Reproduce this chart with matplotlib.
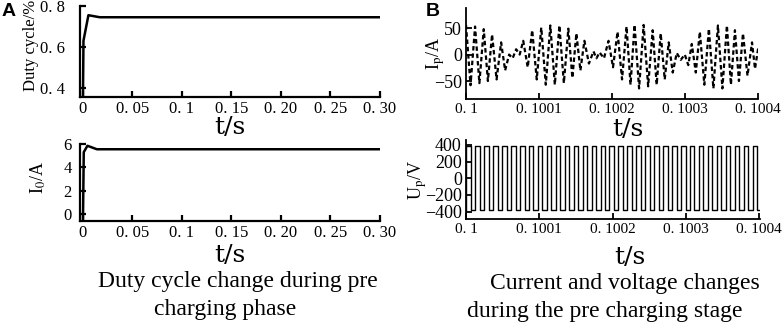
import numpy as np
import matplotlib.pyplot as plt

plt.rcParams['font.family'] = 'Liberation Serif'
plt.rcParams['mathtext.fontset'] = 'stix'

# ---- panel A: duty cycle and output current (time in s)
duty_t = [0.0, 0.0005, 0.0055, 0.017, 0.30]
duty = [0.355, 0.63, 0.755, 0.745, 0.745]
io_t = [0.0, 0.0008, 0.0045, 0.014, 0.30]
io = [-0.6, 5.3, 5.85, 5.55, 5.55]

a_xticks = [0, 0.05, 0.1, 0.15, 0.20, 0.25, 0.30]
a_xlabels = ['0', '0. 05', '0. 1', '0. 15', '0. 20', '0. 25', '0. 30']

# ---- panel B: current column times (us after 0.1 s) and peak values
ip_us = [0, 12.4, 24.3, 35.7, 48.1, 59.1, 68.7, 78.4, 90.7, 103.1, 115.5, 127.9,
         140.2, 151.2, 162.2, 174.6, 182.9, 195.2, 207.6, 219.9, 230.9, 243.3,
         255.7, 266.7, 277.7, 288.7, 299.7, 309.3, 320.3, 332.7, 345.1, 357.4,
         368.4, 379.4, 391.8, 400.0]
ip_pos = [56, 53, 48, 38, 23, 0, 10, 26, 46, 51, 55, 55, 49, 40, 26, 6, 4, 26,
          43, 53, 56, 56, 46, 40, 23, 3, 0, 20, 43, 49, 55, 55, 46, 40, 23, 10]
ip_neg = [-58, -54, -50, -47, -30, -7, 0, -24, -47, -57, -57, -54, -44, -30, -17,
          -7, -7, -24, -47, -57, -64, -60, -57, -47, -34, -10, -20, -34, -57, -64,
          -64, -57, -50, -40, -27, -5]

# square wave: rising and falling edge times (us after 0.1 s)
up_rise = [0.5, 12.7, 24.9, 37.1, 49.3, 61.5, 73.7, 85.9, 98.1, 110.3, 122.5,
           134.7, 146.9, 159.1, 171.3, 183.5, 195.7, 207.9, 220.1, 232.3, 244.5,
           256.7, 268.9, 281.1, 293.3, 305.5, 317.7, 329.9, 342.1, 354.3, 366.5,
           378.7, 390.9]
up_fall = [6.6, 18.8, 31.0, 43.2, 55.4, 67.6, 79.8, 92.0, 104.2, 116.4, 128.6,
           140.8, 153.0, 165.2, 177.4, 189.6, 201.8, 214.0, 226.2, 238.4, 250.6,
           262.8, 275.0, 287.2, 299.4, 311.6, 323.8, 336.0, 348.2, 360.4, 372.6,
           384.8, 397.0]
up_high = 385
up_low = -385

b_xticks = [0.1, 0.1001, 0.1002, 0.1003, 0.1004]
b_xlabels = ['0. 1', '0. 1001', '0. 1002', '0. 1003', '0. 1004']

W, H = 782, 322
fig = plt.figure(figsize=(W / 100, H / 100), dpi=100)


def box(l, t, r, b):
    return [l / W, 1 - b / H, (r - l) / W, (b - t) / H]


def style(ax, lw):
    for s in ['top', 'right']:
        ax.spines[s].set_visible(False)
    for s in ['left', 'bottom']:
        ax.spines[s].set_linewidth(lw)
    ax.tick_params(direction='in', length=4, width=lw, labelsize=12, pad=3)


# A top
ax1 = fig.add_axes(box(80, 6, 380, 97))
ax1.plot(duty_t, duty, color='black', lw=1.8)
ax1.set_xlim(-0.003, 0.30)
ax1.set_ylim(0.355, 0.8)
ax1.set_xticks(a_xticks, a_xlabels)
ax1.set_yticks([0.4, 0.6, 0.8], ['0. 4', '0. 6', '0. 8'])
style(ax1, 1.6)
ax1.tick_params(axis='y', pad=11)

# A bottom
ax2 = fig.add_axes(box(80, 144, 380, 221))
ax2.plot(io_t, io, color='black', lw=1.8)
ax2.set_xlim(-0.003, 0.30)
ax2.set_ylim(-0.6, 6)
ax2.set_xticks(a_xticks, a_xlabels)
ax2.set_yticks([0, 2, 4, 6])
style(ax2, 1.6)
ax2.tick_params(axis='y', pad=6)

# B top: current, peak at each column and trough half way to the next
t_pts, v_pts = [], []
for k in range(len(ip_us)):
    t_pts.append(ip_us[k])
    v_pts.append(ip_pos[k])
    nxt = ip_us[k + 1] if k + 1 < len(ip_us) else ip_us[k] + 11.8
    t_pts.append((ip_us[k] + nxt) / 2)
    v_pts.append(ip_neg[k])
ax3 = fig.add_axes(box(466, 8, 758, 99))
ax3.plot(0.1 + np.array(t_pts) * 1e-6, v_pts, color='black', lw=1.6,
         linestyle=(0, (2.0, 1.3)))
ax3.set_xlim(0.1, 0.1004)
ax3.set_ylim(-84, 88)
ax3.set_xticks(b_xticks, b_xlabels)
ax3.set_yticks([-50, 0, 50], ['\u221250', '0', '50'])
style(ax3, 1.3)
ax3.tick_params(axis='x', labelsize=11)
ax3.tick_params(axis='y', labelsize=13)

# B bottom: square voltage
sq_t, sq_v = [0.0], [up_low]
for r, f in zip(up_rise, up_fall):
    sq_t += [r, r, f, f]
    sq_v += [up_low, up_high, up_high, up_low]
sq_t.append(400.0)
sq_v.append(up_low)
ax4 = fig.add_axes(box(466, 140, 760, 219))
ax4.plot(0.1 + np.array(sq_t) * 1e-6, sq_v, color='black', lw=1.0)
ax4.set_xlim(0.1, 0.100401)
ax4.set_ylim(-490, 460)
ax4.set_xticks(b_xticks, b_xlabels)
ax4.set_yticks([-400, -200, 0, 200, 400],
               ['\u2212400', '\u2212200', '0', '200', '400'])
style(ax4, 1.3)
ax4.tick_params(axis='x', labelsize=11)
ax4.tick_params(axis='y', labelsize=13, pad=3)


def ftext(x, y, s, **kw):
    fig.text(x / W, 1 - y / H, s, ha='center', va='center', **kw)


tsf = dict(fontfamily='DejaVu Serif', fontsize=18)
ftext(230, 128, 't/s', **tsf)
ftext(230, 256, 't/s', **tsf)
ftext(628, 129, 't/s', **tsf)
ftext(630, 257, 't/s', **tsf)

ftext(31, 45, 'Duty cycle/%', rotation=90, fontsize=12)
ftext(38, 177, r'I$_\mathrm{0}$/A', rotation=90, fontsize=13)
ftext(436, 53, r'I$_\mathrm{p}$/A', rotation=90, fontsize=13)
ftext(418, 180, r'U$_\mathrm{p}$/V', rotation=90, fontsize=13)

ftext(238, 281, 'Duty cycle change during pre', fontsize=17)
ftext(225, 309, 'charging phase', fontsize=17)
ftext(625, 283, 'Current and voltage changes', fontsize=17)
ftext(605, 311, 'during the pre charging stage', fontsize=17)

ftext(9, 12, 'A', fontfamily='Liberation Sans', fontweight='bold', fontsize=14)
ftext(433, 12, 'B', fontfamily='Liberation Sans', fontweight='bold', fontsize=14)

fig.savefig('out.png', dpi=100)
